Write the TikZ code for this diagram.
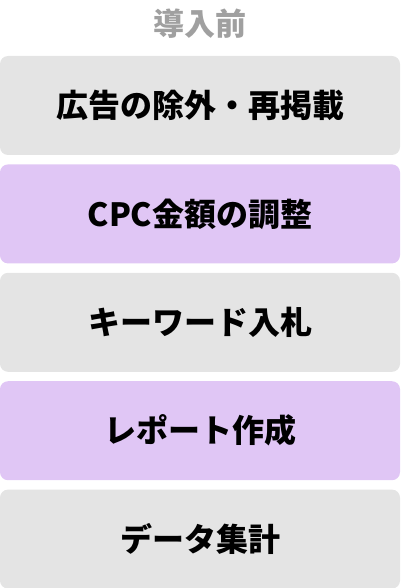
\documentclass[tikz,border=0pt]{standalone}
\usepackage{fontspec}
\setmainfont{Noto Sans CJK JP}
\usepackage{tikz}
\usetikzlibrary{positioning}
\usepackage{xcolor}

\definecolor{boxgray}{HTML}{E4E4E4}
\definecolor{boxpurple}{HTML}{E0C6F5}
\definecolor{titlegray}{HTML}{A0A0A0}

\tikzset{
  stepbox/.style={rectangle, rounded corners=8pt, minimum width=400pt,
    minimum height=99pt, inner sep=0pt, text=black,
    font=\bfseries\fontsize{32}{32}\selectfont},
  graystep/.style={stepbox, fill=boxgray},
  purplestep/.style={stepbox, fill=boxpurple},
  headline/.style={text=titlegray, inner sep=0pt,
    font=\bfseries\fontsize{31}{31}\selectfont}
}

\begin{document}
\begin{tikzpicture}[x=1pt, y=1pt, node distance=9pt]
  \useasboundingbox (0,0) rectangle (400,-588);

  % heading
  \node[headline] (before) at (200,-23.5) {導入前};

  % steps
  \node[graystep]   (exclude) at (200,-105.5) {広告の除外・再掲載};
  \node[purplestep] (cpc)    [below=of exclude] {CPC金額の調整};
  \node[graystep]   (keyword) [below=of cpc] {キーワード入札};
  \node[purplestep] (report) [below=of keyword] {レポート作成};
  \node[graystep]   (data)   [below=of report] {データ集計};
\end{tikzpicture}
\end{document}
